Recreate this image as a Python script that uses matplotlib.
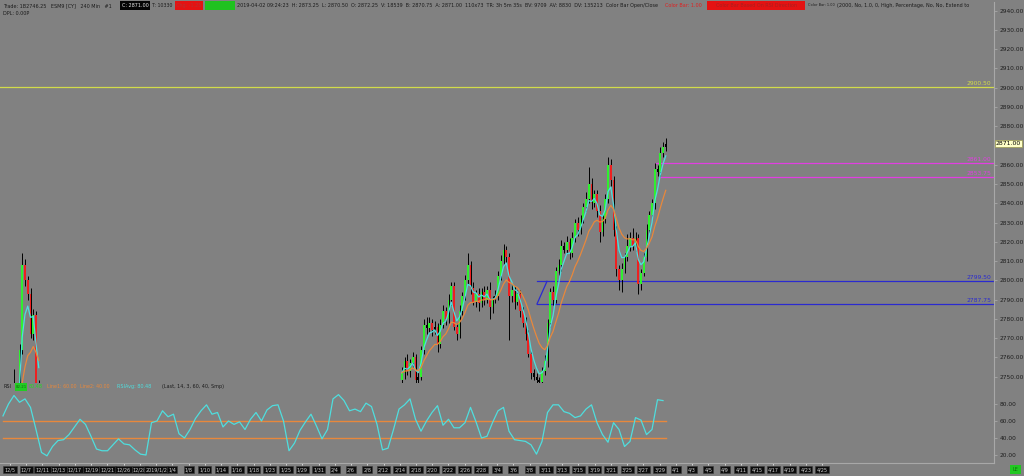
import matplotlib
matplotlib.use('Agg')
import matplotlib.pyplot as plt
import matplotlib.transforms as mtrans
from matplotlib.patches import Rectangle

W, H, DPI = 1024, 476, 100

# ---------------- data ----------------
# left (partially visible) segment of 240-min bars
left_first_open = 2725
left_close = [2728, 2732, 2726, 2735, 2730, 2738, 2764, 2808, 2800, 2793, 2772, 2782, 2746, 2736]
left_up_wick = [2, 2, 2, 2, 19, 2, 3, 6, 3, 2, 3, 3, 2, 2]
left_dn_wick = [2, 2, 2, 2, 2, 2, 2, 2, 3, 3, 2, 3, 4, 2]
left_start_bar = 0

# right (visible) segment
right_first_open = 2748
right_close = [2752, 2758, 2753, 2757, 2760, 2748, 2750, 2764, 2777, 2775,
               2778, 2774, 2776, 2767, 2777, 2784, 2780, 2790, 2797, 2776,
               2772, 2784, 2792, 2800, 2808, 2796, 2789, 2793, 2788, 2794,
               2790, 2795, 2786, 2790, 2792, 2802, 2810, 2816, 2812, 2792,
               2795, 2789, 2793, 2784, 2778, 2772, 2762, 2752, 2750, 2748,
               2747, 2753, 2758, 2778, 2794, 2790, 2805, 2808, 2818, 2816,
               2820, 2814, 2822, 2830, 2826, 2832, 2838, 2842, 2850, 2840,
               2845, 2836, 2825, 2832, 2842, 2860, 2852, 2826, 2806, 2800,
               2806, 2812, 2818, 2822, 2818, 2822, 2798, 2804, 2812, 2826,
               2834, 2840, 2858, 2856, 2866, 2869, 2871]
right_up_wick = [3, 2, 4, 2, 3, 2, 3, 2, 3, 4,
                 3, 2, 3, 2, 3, 3, 2, 3, 2, 2,
                 2, 3, 2, 3, 6, 2, 3, 2, 3, 2,
                 3, 2, 4, 2, 3, 3, 3, 3, 2, 2,
                 3, 2, 2, 2, 2, 3, 2, 2, 2, 2,
                 2, 2, 3, 2, 2, 3, 2, 3, 3, 2,
                 3, 2, 3, 2, 3, 2, 2, 4, 9, 3,
                 2, 2, 3, 2, 3, 4, 3, 2, 2, 2,
                 3, 2, 6, 3, 5, 3, 2, 2, 2, 3,
                 2, 2, 3, 2, 3, 3, 3]
right_dn_wick = [3, 3, 2, 3, 2, 3, 3, 2, 2, 3,
                 2, 3, 2, 4, 2, 2, 3, 2, 3, 2,
                 3, 2, 2, 2, 2, 3, 2, 3, 4, 2,
                 3, 2, 6, 3, 2, 2, 2, 2, 3, 23,
                 3, 4, 2, 3, 2, 3, 2, 3, 2, 2,
                 2, 3, 2, 3, 2, 3, 2, 2, 3, 2,
                 2, 3, 2, 2, 3, 2, 2, 2, 2, 3,
                 2, 3, 5, 2, 2, 2, 3, 3, 4, 5,
                 6, 2, 2, 3, 2, 3, 5, 3, 2, 2,
                 2, 2, 3, 2, 2, 2, 2]
right_start_bar = 145

# RSI (sampled every 2 bars from bar 0)
rsi_step = 2
rsi_values = [66, 80, 90, 82, 86, 76, 50, 23, 19, 30,
              37, 38, 44, 53, 62, 56, 42, 27, 25, 25,
              32, 39, 33, 32, 26, 21, 20, 58, 60, 72,
              65, 68, 45, 40, 50, 63, 72, 79, 68, 70,
              53, 60, 56, 59, 50, 62, 70, 60, 73, 78,
              79, 60, 25, 34, 49, 59, 68, 54, 39, 50,
              86, 91, 84, 72, 74, 71, 81, 77, 56, 26,
              28, 50, 74, 79, 86, 62, 48, 60, 70, 78,
              55, 62, 52, 52, 58, 76, 59, 40, 42, 58,
              72, 76, 48, 38, 37, 36, 32, 21, 36, 70,
              79, 79, 71, 69, 64, 66, 74, 79, 58, 44,
              35, 58, 50, 30, 36, 64, 61, 44, 50, 85,
              84]
rsi_line1 = 60
rsi_line2 = 40

# horizontal levels
levels = [2900.50, 2861.00, 2853.75, 2799.50, 2787.75]
level_labels = ["2900.50", "2861.00", "2853.75", "2799.50", "2787.75"]
last_price = 2871.00

price_ticks = list(range(2750, 2941, 10))
rsi_ticks = [20, 40, 60, 80]

date_labels = ["12/5", "12/7", "12/11", "12/13", "12/17", "12/19", "12/21", "12/26", "12/28",
               "2019/1/2", "1/4", "1/8", "1/10", "1/14", "1/16", "1/18", "1/23", "1/25",
               "1/29", "1/31", "2/4", "2/6", "2/8", "2/12", "2/14", "2/18", "2/20", "2/22",
               "2/26", "2/28", "3/4", "3/6", "3/8", "3/11", "3/13", "3/15", "3/19", "3/21",
               "3/25", "3/27", "3/29", "4/1", "4/3", "4/5", "4/9", "4/11", "4/15", "4/17",
               "4/19", "4/23", "4/25"]

# ---------------- style / layout ----------------
BG = '#818181'
FRAME = '#a8a8a8'
GREEN = '#2ff02f'
RED = '#ee2020'
CYAN = '#4fdede'
ORANGE = '#e8883c'
YELLOW = '#d2dc4a'
MAGENTA = '#e23ee2'
BLUE = '#2a2ad0'
NARROW = ['Liberation Sans Narrow', 'DejaVu Sans']

PX_PER_BAR = 2.75
X0_PX = 3
RIGHT_PX = 994
level_colors = [YELLOW, MAGENTA, MAGENTA, BLUE, BLUE]
level_start_px = [0, 656, 661, 537, 537]

fig = plt.figure(figsize=(W / DPI, H / DPI), dpi=DPI, facecolor=BG)


def px2bar(px):
    return (px - X0_PX) / PX_PER_BAR


ax_p = fig.add_axes([0, 1 - 383 / H, RIGHT_PX / W, 381 / H], facecolor=BG)
ax_r = fig.add_axes([0, 1 - 463 / H, RIGHT_PX / W, 79 / H], facecolor=BG)
for ax in (ax_p, ax_r):
    ax.set_xlim(px2bar(0), px2bar(RIGHT_PX))
    for s in ('left', 'top'):
        ax.spines[s].set_visible(False)
    ax.spines['right'].set_color(FRAME)
    ax.spines['right'].set_linewidth(0.8)
ax_p.spines['bottom'].set_visible(False)
ax_r.spines['bottom'].set_color(FRAME)
ax_r.spines['bottom'].set_linewidth(0.8)

ax_p.set_ylim(2746.7, 2944.5)
ax_r.set_ylim(10.6, 103.5)


def ema(vals, span):
    a = 2.0 / (span + 1)
    out = [vals[0]]
    for v in vals[1:]:
        out.append(out[-1] + a * (v - out[-1]))
    return out


def draw_candles(ax, start, first_open, closes, upw, dnw):
    opens = [first_open] + closes[:-1]
    xs = [start + i for i in range(len(closes))]
    for x, o, c, u, d in zip(xs, opens, closes, upw, dnw):
        hi = max(o, c) + u
        lo = min(o, c) - d
        ax.vlines(x, lo, hi, color='black', lw=0.7, zorder=3)
        if c - o > 2:
            col = GREEN
        elif o - c > 2:
            col = RED
        else:
            col = 'black'
        ax.bar(x, max(abs(c - o), 0.8), bottom=min(o, c), width=0.72,
               color=col, edgecolor='none', zorder=4)
    ax.plot(xs, ema(closes, 4), color=CYAN, lw=0.9, zorder=5)
    ax.plot(xs, ema(closes, 12), color=ORANGE, lw=0.9, zorder=5)


draw_candles(ax_p, left_start_bar, left_first_open, left_close, left_up_wick, left_dn_wick)
draw_candles(ax_p, right_start_bar, right_first_open, right_close, right_up_wick, right_dn_wick)

# horizontal levels
xmax_bar = px2bar(RIGHT_PX)
blend_p = mtrans.blended_transform_factory(ax_p.transAxes, ax_p.transData)
for lv, lab, col, spx in zip(levels, level_labels, level_colors, level_start_px):
    ax_p.plot([px2bar(spx), xmax_bar], [lv, lv], color=col, lw=0.9, zorder=2)
    ax_p.text(0.997, lv + 0.6, lab, transform=blend_p,
              ha='right', va='bottom', fontsize=4.3, color=col, family=NARROW, zorder=6)
# diagonal connector of blue levels
ax_p.plot([px2bar(537), px2bar(547)], [levels[4], levels[3]], color=BLUE, lw=0.9, zorder=2)

# price axis (the 2870 label sits under the last-price marker)
ax_p.yaxis.tick_right()
ax_p.set_yticks(price_ticks)
ax_p.set_yticklabels(["" if abs(v - last_price) < 5 else f"{v:.2f}" for v in price_ticks])
ax_p.tick_params(axis='y', labelsize=4.2, labelcolor='#1e1e1e', color=FRAME, length=2, width=0.6, pad=2)
ax_p.set_xticks([])
for t in ax_p.get_yticklabels():
    t.set_family(NARROW)
ax_p.text(1.002, last_price, f"{last_price:.2f}", transform=blend_p,
          ha='left', va='center', fontsize=4.4, color='black', family=NARROW, zorder=8,
          bbox=dict(facecolor='#ffffc8', edgecolor='#9a9a50', pad=0.8, lw=0.5), clip_on=False)

# RSI panel
rsi_x = [i * rsi_step for i in range(len(rsi_values))]
end_bar = right_start_bar + len(right_close) - 1
ax_r.plot([0, end_bar], [rsi_line1, rsi_line1], color=ORANGE, lw=1.0)
ax_r.plot([0, end_bar], [rsi_line2, rsi_line2], color=ORANGE, lw=1.0)
ax_r.plot(rsi_x, rsi_values, color=CYAN, lw=0.9)
ax_r.yaxis.tick_right()
ax_r.set_yticks(rsi_ticks)
ax_r.set_yticklabels([f"{v:.2f}" for v in rsi_ticks])
ax_r.tick_params(axis='y', labelsize=4.2, labelcolor='#1e1e1e', color=FRAME, length=2, width=0.6, pad=2)
for t in ax_r.get_yticklabels():
    t.set_family(NARROW)

# date labels
lab_bars = [px2bar(10 + k * 16.24) for k in range(len(date_labels))]
ax_r.set_xticks(lab_bars)
ax_r.set_xticklabels(date_labels)
ax_r.tick_params(axis='x', labelsize=3.5, labelcolor='#d2d2d2', color='#e6e6e6', length=1.5, width=0.6, pad=1.6)
for t in ax_r.get_xticklabels():
    t.set_family(NARROW)
    t.set_bbox(dict(facecolor='#0c0c0c', edgecolor='#3c3c3c', pad=0.8, lw=0.4))

# ---------------- header texts ----------------
renderer = fig.canvas.get_renderer()
FS = [5.0]


def txt(s, x0, yc, color='#1c1c1c', ha='left', maxw=None):
    t = fig.text(x0 / W, 1 - yc / H, s, fontsize=FS[0], color=color, va='center', ha=ha,
                 family=NARROW, zorder=10)
    if maxw is not None:
        w = t.get_window_extent(renderer).width
        if w > maxw:
            t.set_fontsize(FS[0] * maxw / w)
    return t


def box(x0, x1, y0, y1, fc):
    fig.add_artist(Rectangle((x0 / W, 1 - y1 / H), (x1 - x0) / W, (y1 - y0) / H,
                             transform=fig.transFigure, facecolor=fc, edgecolor='none', zorder=9))


hy = 5.5
long_t = txt("2019-04-02 09:24:23  H: 2873.25  L: 2870.50  O: 2872.25  V: 18539  B: 2870.75  A: 2871.00  110x73  "
             "TR: 3h 5m 35s  BV: 9709  AV: 8830  DV: 135213  Color Bar Open/Close", 237, hy)
w = long_t.get_window_extent(renderer).width
FS[0] = 5.0 * (661 - 237) / w
long_t.set_fontsize(FS[0])

txt("Trade: 1B2746.25   ESM9 [CY]   240 Min   #1", 3, hy, maxw=114)
box(120, 150, 1, 10, '#050505')
txt("C: 2871.00", 135, hy, color='#e8e8e8', ha='center', maxw=28)
txt("T: 10330", 152, hy, maxw=21)
box(175, 203, 1, 10, '#e41212')
txt("Chg: -1.25", 189, hy, color='#b83030', ha='center', maxw=26)
box(205, 235, 1, 10, '#1fc21f')
txt("Color Bar: 1.00", 665, hy, color='#e02020', maxw=38)
box(707, 805, 1, 10, '#e41212')
txt("Color Bar Based On RSI Direction", 756, hy, color='#a82020', ha='center', maxw=94)
txt("Color Bar: 1.00", 808, hy, maxw=27)
txt("(2000, No, 1.0, 0, High, Percentage, No, No, Extend to", 837, hy, maxw=150)
txt("DPL: 0.00P", 3, 13.5)

# RSI legend
ry = 386.5
txt("RSI", 4, ry)
box(15, 27, 382.5, 390.5, '#22cc22')
txt("82.21", 21, ry, color='#116611', ha='center', maxw=11)
txt("80.48", 29, ry, color='#22dd22', maxw=15)
txt("Line1: 60.00", 47, ry, color=ORANGE, maxw=30)
txt("Line2: 40.00", 80, ry, color=ORANGE, maxw=30)
txt("RSIAvg: 80.48", 117, ry, color=CYAN, maxw=42)
txt("(Last, 14, 3, 60, 40, Smp)", 162, ry, maxw=66)

# LE box
box(1010, 1021, 465, 474, '#22c822')
txt("LE", 1015.5, 469.5, color='#0e6e0e', ha='center')

fig.savefig('out.png', dpi=DPI, facecolor=BG)
